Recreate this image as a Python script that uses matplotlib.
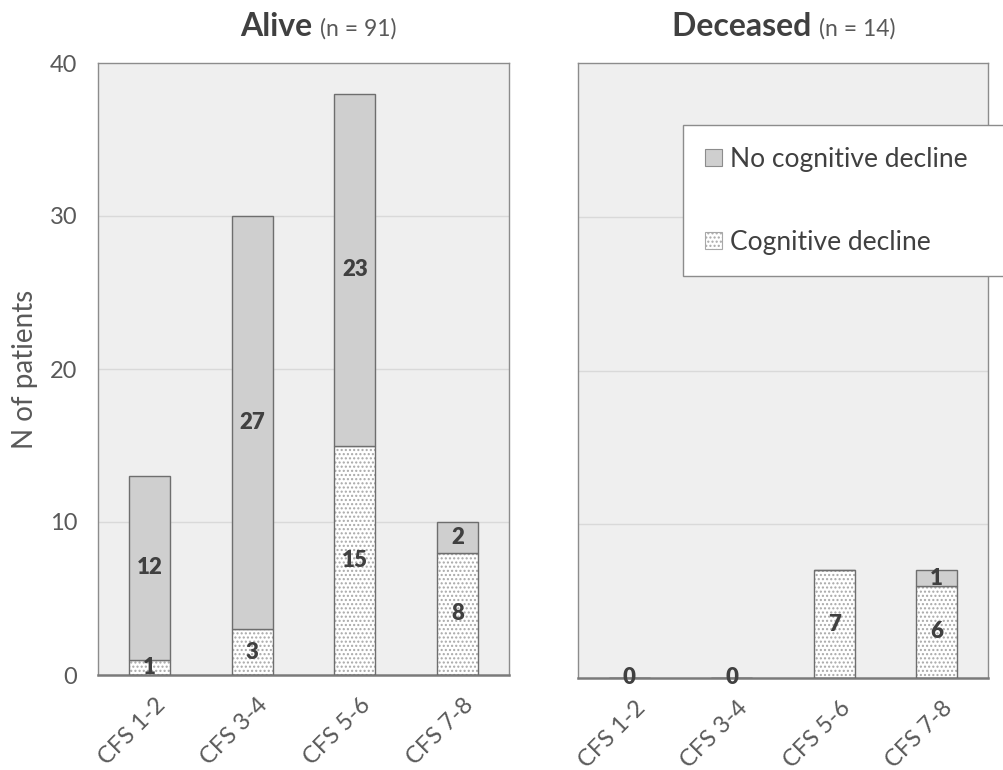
import matplotlib
matplotlib.use("Agg")
import matplotlib.pyplot as plt
import matplotlib.patches as mpatches
import matplotlib.transforms as mtransforms
import numpy as np

plt.rcParams['font.family'] = ['Lato', 'DejaVu Sans']
plt.rcParams['hatch.linewidth'] = 1.0

categories = ["CFS 1-2", "CFS 3-4", "CFS 5-6", "CFS 7-8"]
alive_decline = [1, 3, 15, 8]
alive_no_decline = [12, 27, 23, 2]
dec_decline = [0, 0, 7, 6]
dec_no_decline = [0, 0, 0, 1]
titles = [("Alive", "(n = 91)"), ("Deceased", "(n = 14)")]
yticks = [0, 10, 20, 30, 40]

TXT = "#595959"
LBL = "#404040"
BG = "#efefef"
GRAY = "#cfcfcf"
EDGE = "#6e6e6e"

fig = plt.figure(figsize=(10.04, 7.7), dpi=100)
ax1 = fig.add_axes([98/1004, 1-675/770, 411/1004, 612/770])
ax2 = fig.add_axes([578/1004, 1-678/770, 410/1004, 615/770])

x = np.arange(len(categories))
w = 0.4
LFS = 16
LW = "heavy"
offset = mtransforms.ScaledTranslation(5/100, -3/100, fig.dpi_scale_trans)

def draw(ax, dec, nodec, show_y):
    ax.set_facecolor(BG)
    ax.set_xlim(-0.5, 3.5)
    ax.set_ylim(0, 40)
    for gy in [10, 20, 30]:
        ax.axhline(gy, color="#d9d9d9", lw=1, zorder=0)
    ax.bar(x, dec, w, color="white", edgecolor="#a8a8a8", hatch="....", lw=0, zorder=2)
    ax.bar(x, dec, w, color="none", edgecolor=EDGE, lw=1.0, zorder=3)
    ax.bar(x, nodec, w, bottom=dec, color=GRAY, edgecolor=EDGE, lw=1.0, zorder=3)
    for i in range(len(x)):
        if dec[i] + nodec[i] == 0:
            ax.text(x[i], 0, "0", ha="center", va="center", fontsize=LFS,
                    fontweight=LW, color=LBL, zorder=5, clip_on=False)
            continue
        if dec[i] > 0:
            ax.text(x[i], dec[i] / 2, str(dec[i]), ha="center", va="center",
                    fontsize=LFS, fontweight=LW, color=LBL, zorder=5)
        if nodec[i] > 0:
            ax.text(x[i], dec[i] + nodec[i] / 2, str(nodec[i]), ha="center",
                    va="center", fontsize=LFS, fontweight=LW, color=LBL, zorder=5)
    for s in ["top", "right", "left"]:
        ax.spines[s].set_color("#8c8c8c")
        ax.spines[s].set_linewidth(1.0)
    ax.spines["bottom"].set_color("#7a7a7a")
    ax.spines["bottom"].set_linewidth(1.8)
    ax.set_xticks(x)
    ax.set_xticklabels(categories, rotation=45, ha="right", va="top",
                       rotation_mode="anchor", fontsize=17, color=TXT)
    ax.tick_params(axis="x", length=0, pad=12)
    for lab in ax.get_xticklabels():
        lab.set_transform(lab.get_transform() + offset)
    if show_y:
        ax.set_yticks(yticks)
        ax.set_yticklabels([str(t) for t in yticks], fontsize=17, color=TXT)
        ax.tick_params(axis="y", length=0, pad=15)
    else:
        ax.set_yticks([])

draw(ax1, alive_decline, alive_no_decline, True)
draw(ax2, dec_decline, dec_no_decline, False)

ax1.set_ylabel("N of patients", fontsize=20, color=TXT, labelpad=8)

# titles (centres in pixels)
title_cx = [318, 784]
fig.canvas.draw()
r = fig.canvas.get_renderer()
for (bold, rest), cx in zip(titles, title_cx):
    t1 = fig.text(0, 0, bold + " ", fontsize=23, fontweight="bold", color=LBL)
    t2 = fig.text(0, 0, rest, fontsize=16.5, color=TXT)
    bb1 = t1.get_window_extent(r)
    bb2 = t2.get_window_extent(r)
    total = bb1.width + bb2.width
    start = cx - total / 2
    ypix = fig.bbox.height - 36
    inv = fig.transFigure.inverted()
    t1.set_position(inv.transform((start, ypix)))
    t2.set_position(inv.transform((start + bb1.width, ypix)))

# legend
hnd_no = mpatches.Patch(facecolor=GRAY, edgecolor="#8c8c8c", lw=0.8)
hnd_cd = mpatches.Patch(facecolor="white", edgecolor="#a8a8a8", hatch="....", lw=0.8)
top = 1 - 125/770
leg = fig.legend([hnd_no, hnd_cd], ["No cognitive decline", "Cognitive decline"],
                 loc="upper left", bbox_to_anchor=(683/1004, top - 0.1, 0.33, 0.1),
                 bbox_transform=fig.transFigure, mode="expand",
                 fontsize=19, frameon=True, fancybox=False, framealpha=1,
                 edgecolor="#8c8c8c", handlelength=0.65, handleheight=0.65,
                 handletextpad=0.3, labelspacing=2.2, borderpad=0.82, borderaxespad=0)
leg.get_frame().set_linewidth(1.0)
for t in leg.get_texts():
    t.set_color(LBL)

fig.savefig("out.png", dpi=100)
